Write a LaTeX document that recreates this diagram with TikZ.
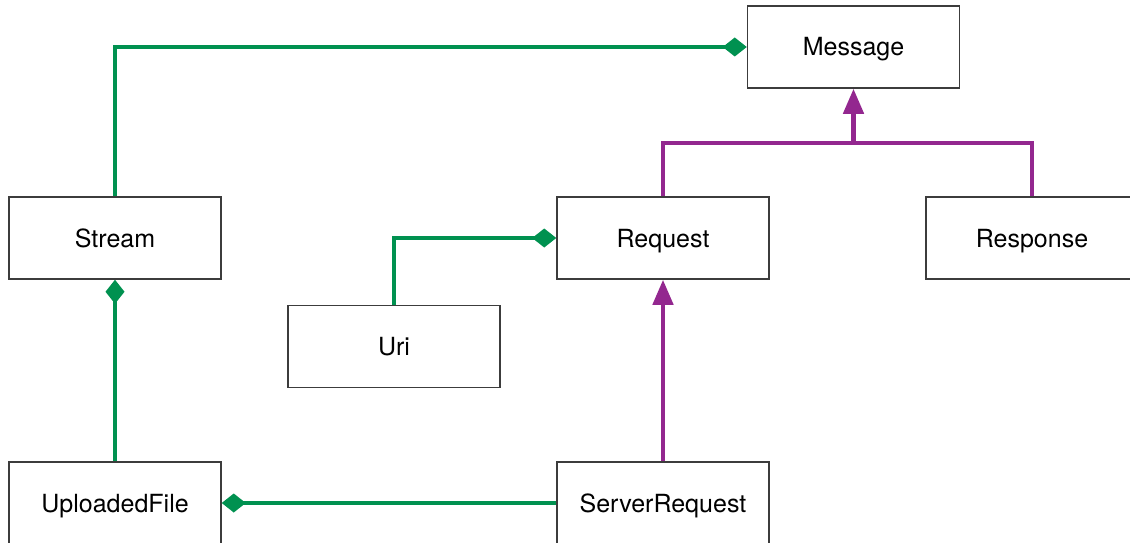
\documentclass[tikz,border=0pt]{standalone}
\usepackage{fontspec}
\setmainfont{TeX Gyre Heros}
\usetikzlibrary{arrows.meta}
\definecolor{compgreen}{RGB}{0,145,80}
\definecolor{inhpurple}{RGB}{147,39,143}
\definecolor{boxline}{RGB}{60,60,60}
\begin{document}
\begin{tikzpicture}[x=1pt,y=-1pt,
  classbox/.style={draw=boxline,line width=1.5pt,fill=white,minimum width=212pt,
    minimum height=82pt,inner sep=0pt,text height=18pt,text depth=0pt,
    font=\fontsize{25}{29}\selectfont},
  compose/.style={draw=compgreen,line width=4.5pt,
    -{Diamond[length=24pt,width=19pt,fill=compgreen]}},
  inherit/.style={draw=inhpurple,line width=4.5pt,
    -{Triangle[length=25pt,width=20pt,fill=inhpurple]}},
  inhline/.style={draw=inhpurple,line width=4.5pt}]
\useasboundingbox (0,0) rectangle (1130,543);
\clip (0,0) rectangle (1130,543);
\fill[white] (0,0) rectangle (1130,543);

% classes
\node[classbox] (Message) at (853.5,47) {Message};
\node[classbox] (Stream) at (115,238) {Stream};
\node[classbox] (Request) at (663,238) {Request};
\node[classbox] (Response) at (1032,238) {Response};
\node[classbox] (Uri) at (394,346.5) {Uri};
\node[classbox] (UploadedFile) at (115,503) {UploadedFile};
\node[classbox] (ServerRequest) at (663,503) {ServerRequest};

% composition links
\draw[compose] (Stream.north) |- (Message.west);
\draw[compose] (Uri.north) |- (Request.west);
\draw[compose] (UploadedFile.north) -- (Stream.south);
\draw[compose] (ServerRequest.west) -- (UploadedFile.east);

% inheritance links
\coordinate (join) at (853.5,143);
\draw[inhline,line join=miter] (Request.north) |- (join) -| (Response.north);
\draw[inherit] (join) -- (Message.south);
\draw[inherit] (ServerRequest.north) -- (Request.south);
\end{tikzpicture}
\end{document}
